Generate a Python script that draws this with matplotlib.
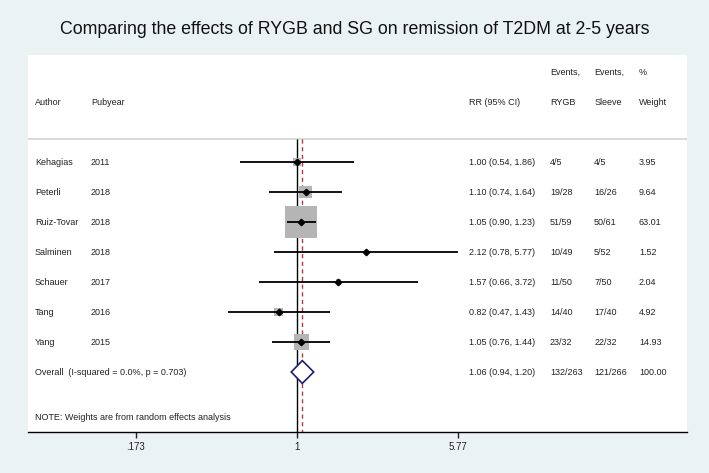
import matplotlib.pyplot as plt
import numpy as np
from matplotlib.patches import Polygon

plt.rcParams['font.family'] = ['Liberation Sans', 'DejaVu Sans']

# study data
authors = ['Kehagias', 'Peterli', 'Ruiz-Tovar', 'Salminen', 'Schauer', 'Tang', 'Yang']
pubyear = ['2011', '2018', '2018', '2018', '2017', '2016', '2015']
rr = [1.00, 1.10, 1.05, 2.12, 1.57, 0.82, 1.05]
lo = [0.54, 0.74, 0.90, 0.78, 0.66, 0.47, 0.76]
hi = [1.86, 1.64, 1.23, 5.77, 3.72, 1.43, 1.44]
ev_rygb = ['4/5', '19/28', '51/59', '10/49', '11/50', '14/40', '23/32']
ev_sleeve = ['4/5', '16/26', '50/61', '5/52', '7/50', '17/40', '22/32']
weight = [3.95, 9.64, 63.01, 1.52, 2.04, 4.92, 14.93]

overall = 1.06
overall_lo = 0.94
overall_hi = 1.20
overall_label = 'Overall  (I-squared = 0.0%, p = 0.703)'
overall_rygb = '132/263'
overall_sleeve = '121/266'
overall_weight = '100.00'

xticks = [0.173, 1, 5.77]
xticklabels = ['.173', '1', '5.77']

bg = '#eaf2f3'
fig = plt.figure(figsize=(7.09, 4.73), dpi=100, facecolor=bg)
ax = fig.add_axes([28/709, 41/473, 659/709, 377/473])
ax.set_facecolor('white')

ax.set_xscale('log')
ax.set_xlim(0.0536, 69.7)
ax.set_ylim(9.0, -3.567)

for s in ['top', 'left', 'right']:
    ax.spines[s].set_visible(False)
ax.spines['bottom'].set_linewidth(1.0)
ax.set_yticks([])
ax.set_xticks(xticks)
ax.set_xticklabels(xticklabels)
ax.minorticks_off()
ax.tick_params(axis='x', direction='out', length=4, width=1, labelsize=7, pad=3, colors='#222222')

# separator line under header
ax.axhline(-0.767, color='#d4d4d4', lw=1.2)

# reference lines
ax.vlines(1, -0.767, 9.0, color='black', lw=1)
ax.vlines(overall, -0.767, 9.0, color='#b8383a', lw=1, linestyles=(0, (3, 2.5)))

rows = np.arange(len(authors))
sides = 32 * np.sqrt(np.array(weight) / 63.01) * 0.72
ax.scatter(rr, rows, s=sides**2, marker='s', color='#b5b5b5', zorder=2, linewidths=0)
ax.hlines(rows, lo, hi, color='black', lw=1.3, zorder=3)
ax.plot(rr, rows, 'D', color='black', markersize=3.3, zorder=4)

# overall diamond
oy = len(authors)
h = 0.38
dia = Polygon([(overall_lo, oy), (overall, oy - h), (overall_hi, oy), (overall, oy + h)],
              closed=True, facecolor='white', edgecolor='#1f1f78', lw=1.2, zorder=4)
ax.add_patch(dia)

tr = ax.get_yaxis_transform()
fs = 6.5
tc = '#222222'
cols = [0.0106, 0.0956, 0.669, 0.792, 0.859, 0.927]

# headers
ax.text(cols[3], -3.0, 'Events,', transform=tr, fontsize=fs, color=tc, va='center')
ax.text(cols[4], -3.0, 'Events,', transform=tr, fontsize=fs, color=tc, va='center')
ax.text(cols[5], -3.0, '%', transform=tr, fontsize=fs, color=tc, va='center')
for c, t in zip(cols, ['Author', 'Pubyear', 'RR (95% CI)', 'RYGB', 'Sleeve', 'Weight']):
    ax.text(c, -2.0, t, transform=tr, fontsize=fs, color=tc, va='center')

for i in rows:
    vals = [authors[i], pubyear[i], '%.2f (%.2f, %.2f)' % (rr[i], lo[i], hi[i]),
            ev_rygb[i], ev_sleeve[i], '%.2f' % weight[i]]
    for c, t in zip(cols, vals):
        ax.text(c, i, t, transform=tr, fontsize=fs, color=tc, va='center')

ax.text(cols[0], oy, overall_label, transform=tr, fontsize=fs, color=tc, va='center')
ovals = ['%.2f (%.2f, %.2f)' % (overall, overall_lo, overall_hi), overall_rygb, overall_sleeve, overall_weight]
for c, t in zip(cols[2:], ovals):
    ax.text(c, oy, t, transform=tr, fontsize=fs, color=tc, va='center')

ax.text(cols[0], 8.5, 'NOTE: Weights are from random effects analysis', transform=tr,
        fontsize=fs, color=tc, va='center')

fig.text(0.5, 1 - 30/473, 'Comparing the effects of RYGB and SG on remission of T2DM at 2-5 years',
         ha='center', va='center', fontsize=12.8, color='#111111')

fig.savefig('out.png', dpi=100, facecolor=bg)
